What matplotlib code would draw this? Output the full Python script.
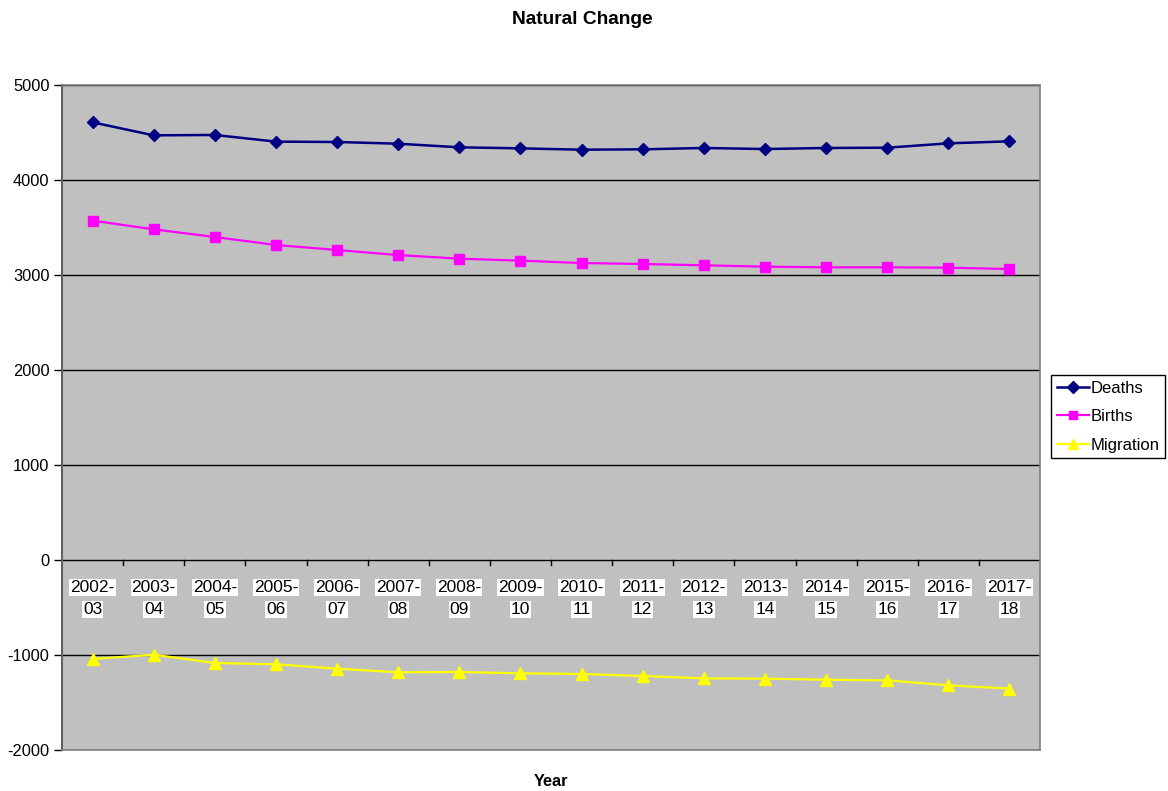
import matplotlib
matplotlib.use("Agg")
import matplotlib.pyplot as plt
import numpy as np

plt.rcParams['font.family'] = ['Liberation Sans', 'DejaVu Sans']

years = ["2002-03", "2003-04", "2004-05", "2005-06", "2006-07", "2007-08",
         "2008-09", "2009-10", "2010-11", "2011-12", "2012-13", "2013-14",
         "2014-15", "2015-16", "2016-17", "2017-18"]
deaths = [4607, 4470, 4474, 4404, 4400, 4382, 4344, 4333,
          4319, 4323, 4337, 4326, 4337, 4340, 4386, 4407]
births = [3572, 3481, 3400, 3316, 3263, 3210, 3172, 3151,
          3126, 3116, 3102, 3088, 3081, 3081, 3077, 3063]
migration = [-1042, -997, -1084, -1098, -1144, -1182, -1179, -1193,
             -1200, -1221, -1246, -1249, -1260, -1267, -1319, -1354]
y_ticks = [-2000, -1000, 0, 1000, 2000, 3000, 4000, 5000]

W, H = 1168, 791
fig = plt.figure(figsize=(W / 100, H / 100), dpi=100)
fig.patch.set_facecolor("white")
ax = fig.add_axes([62 / W, 1 - 750 / H, (1040 - 62) / W, (750 - 85) / H])
ax.set_facecolor("#C0C0C0")

x = np.arange(len(years))
ax.set_xlim(-0.5, len(years) - 0.5)
ax.set_ylim(-2000, 5000)

# horizontal gridlines
ax.set_yticks(y_ticks)
ax.yaxis.grid(True, color="black", linewidth=1.0)
ax.set_axisbelow(True)

l1, = ax.plot(x, deaths, color="#000080", linewidth=1.8, marker="D",
              markersize=6.5, label="Deaths", zorder=3)
l2, = ax.plot(x, births, color="#FF00FF", linewidth=1.6, marker="s",
              markersize=7, label="Births", zorder=3)
l3, = ax.plot(x, migration, color="#FFFF00", linewidth=1.6, marker="^",
              markersize=8, label="Migration", zorder=3)

# plot-area border
for s in ["top", "right"]:
    ax.spines[s].set_color("#808080")
    ax.spines[s].set_linewidth(1.2)
ax.spines["left"].set_color("#606060")
ax.spines["left"].set_linewidth(1.5)
ax.spines["bottom"].set_visible(False)
ax.plot([0, 1], [0, 0], transform=ax.transAxes, color="#808080",
        linewidth=1.2, clip_on=False, zorder=4)

# category axis crosses at zero, tick marks at category boundaries
ax.set_xticks(np.arange(-0.5, len(years), 1.0))
ax.set_xticklabels([])
ax.tick_params(axis="x", length=0)
for b in np.arange(0.5, len(years) - 0.5, 1.0):
    ax.plot([b, b], [0, -55], color="black", linewidth=1.0, zorder=2)

ax.tick_params(axis="y", direction="out", length=6, width=1, color="black",
               labelsize=11.8, pad=3)
ax.set_yticklabels([str(v) for v in y_ticks])

for i, lab in enumerate(years):
    top, bottom = lab.split("-")
    for j, part in enumerate([top + "-", bottom]):
        ax.annotate(part, xy=(i, 0), xytext=(0, -19.8 - 15.6 * j),
                    textcoords="offset points", ha="center", va="center",
                    fontsize=12.5, color="black",
                    bbox=dict(boxstyle="square,pad=0.06", facecolor="white",
                              edgecolor="none"), zorder=5)

fig.text(582 / W, 1 - 20 / H, "Natural Change", ha="center", va="center",
         fontsize=13.8, fontweight="bold")
fig.text(551 / W, 1 - 782 / H, "Year", ha="center", va="center",
         fontsize=11.8, fontweight="bold")

leg = fig.legend(handles=[l1, l2, l3], loc="upper left",
                 bbox_to_anchor=(1051 / W, 1 - 375 / H), frameon=True,
                 fancybox=False, edgecolor="black", facecolor="white",
                 framealpha=1, fontsize=12, handlelength=1.9,
                 handletextpad=0.1, labelspacing=0.8, borderpad=0.35,
                 borderaxespad=0, markerscale=0.9)
leg.get_frame().set_linewidth(1.0)

fig.savefig("out.png", dpi=100, facecolor="white")
